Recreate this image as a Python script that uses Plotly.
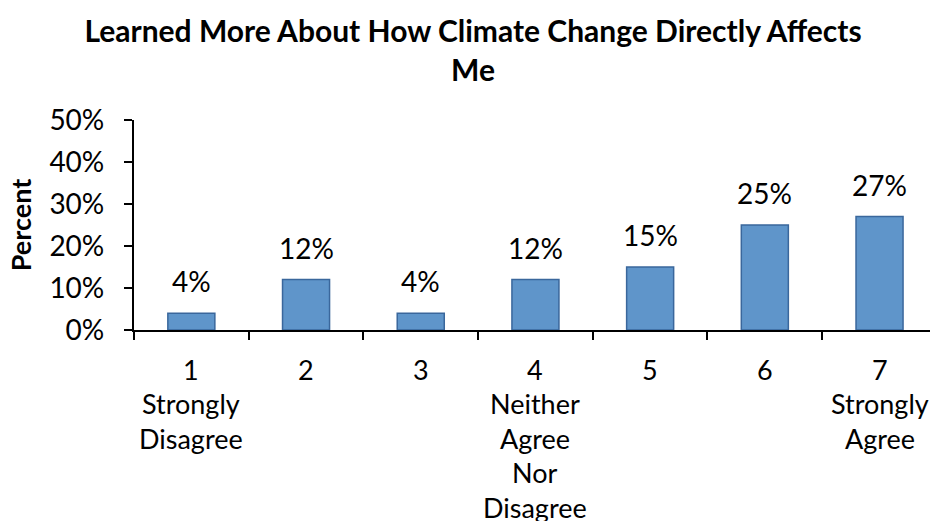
import plotly.graph_objects as go

# Survey responses on a 1-7 agreement scale
categories = ["1", "2", "3", "4", "5", "6", "7"]
descriptions = [
    ["Strongly", "Disagree"],
    [],
    [],
    ["Neither", "Agree", "Nor", "Disagree"],
    [],
    [],
    ["Strongly", "Agree"],
]
percents = [4, 12, 4, 12, 15, 25, 27]
y_ticks = [0, 10, 20, 30, 40, 50]
# trailing no-break spaces keep the labels clear of the tick marks
y_tick_text = [f"{t}%\u00a0\u00a0" for t in y_ticks]

FONT = "Lato"
LINE_GAP = 34.5  # vertical spacing of the category label lines, px

fig = go.Figure()
fig.add_trace(
    go.Bar(
        x=list(range(len(categories))),
        y=percents,
        width=0.41,
        marker=dict(color="#5F95CA", line=dict(color="#3A679C", width=1.5)),
        hoverinfo="skip",
    )
)

annotations = []
# value labels above each bar
for i, v in enumerate(percents):
    annotations.append(dict(
        x=i, y=v, xref="x", yref="y", text=f"{v}%", showarrow=False,
        yanchor="bottom", yshift=13,
        font=dict(family=FONT, size=28, color="black"),
    ))
# category labels under the axis, one annotation per line
for i, (cat, desc) in enumerate(zip(categories, descriptions)):
    for k, line in enumerate([cat] + desc):
        annotations.append(dict(
            x=i, y=0, xref="x", yref="y", text=line, showarrow=False,
            yanchor="middle", yshift=-(39 + LINE_GAP * k),
            font=dict(family=FONT, size=27, color="black"),
        ))

fig.update_layout(
    width=930, height=521,
    margin=dict(l=134, r=0, t=120, b=191),
    paper_bgcolor="white", plot_bgcolor="white",
    showlegend=False,
    title=dict(
        text="<b>Learned More About How Climate Change Directly Affects<br>Me</b>",
        x=0.5086, xanchor="center", y=0.919, yanchor="middle",
        font=dict(family=FONT, size=30, color="black"),
    ),
    annotations=annotations,
    xaxis=dict(
        type="linear", range=[-0.5, 6.44],
        tickvals=[i - 0.5 for i in range(len(categories))],
        showticklabels=False, ticks="outside", ticklen=8, tickwidth=1.5,
        tickcolor="black", showline=True, linecolor="black", linewidth=1.5,
        showgrid=False, zeroline=False, fixedrange=True,
    ),
    yaxis=dict(
        range=[0, 50], tickmode="array", tickvals=y_ticks, ticktext=y_tick_text,
        ticks="outside", ticklen=8, tickwidth=1.5, tickcolor="black",
        showline=True, linecolor="black", linewidth=1.5,
        showgrid=False, zeroline=False,
        tickfont=dict(family=FONT, size=28, color="black"),
        title=dict(text="<b>Percent</b>", standoff=10,
                   font=dict(family=FONT, size=27, color="black")),
    ),
)

fig.write_html("out.html")
